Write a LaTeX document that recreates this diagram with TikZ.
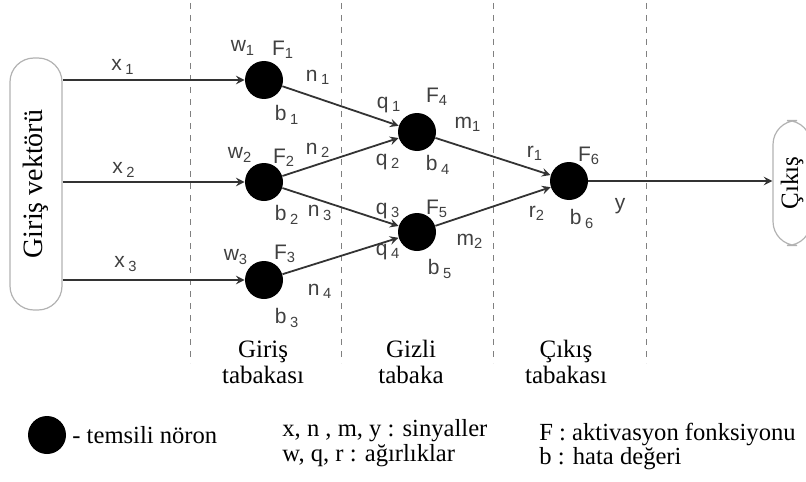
\documentclass[tikz,border=0pt]{standalone}
\usepackage{fontspec}
\setmainfont{Liberation Serif}
\setsansfont{Liberation Sans}
\begin{document}
\begin{tikzpicture}[x=0.5pt,y=-0.5pt,>=stealth,
  neuron/.style={circle,fill=black,minimum size=19pt,inner sep=0pt},
  vecbox/.style={draw=gray!60,line width=0.6pt,rounded corners=12pt,rotate=90,inner sep=0pt},
  lbl/.style={font=\sffamily\fontsize{10.5}{11}\selectfont,text=black!75,inner sep=0pt},
  layer/.style={align=center,font=\fontsize{12.5}{13}\selectfont,inner sep=0pt},
  leg/.style={anchor=west,font=\fontsize{12.3}{13}\selectfont,inner sep=0pt},
  conn/.style={->,draw=black!80,line width=0.9pt}]
\useasboundingbox (0,0) rectangle (806,481);
\clip (0,0) rectangle (806,481);

% layer borders
\foreach \lx in {190,341,493,646}
  \draw[dashed,gray,line width=0.5pt] (\lx,3) -- (\lx,363);

% vectors
\node[vecbox,minimum width=126pt,minimum height=26pt,font=\fontsize{14}{15}\selectfont] (in) at (36,184) {Giriş vektörü};
\node[vecbox,minimum width=62.5pt,minimum height=19pt,font=\fontsize{12.5}{13}\selectfont] (out) at (792,183) {Çıkış};

% neurons
\node[neuron] (n1) at (264,80) {};
\node[neuron] (n2) at (264,182) {};
\node[neuron] (n3) at (264,280) {};
\node[neuron] (h1) at (417,132) {};
\node[neuron] (h2) at (417,232) {};
\node[neuron] (o) at (569,181) {};

\draw[conn] (in.south |- n1) -- (n1);
\draw[conn] (in.south |- n2) -- (n2);
\draw[conn] (in.south |- n3) -- (n3);
\draw[conn] (n1) -- (h1);
\draw[conn] (n2) -- (h1);
\draw[conn] (n2) -- (h2);
\draw[conn] (n3) -- (h2);
\draw[conn] (h1) -- (o);
\draw[conn] (h2) -- (o);
\draw[conn] (o) -- (out.north |- o);

% labels
\node[lbl] (lx1) at (123,67) {x\,\textsubscript{1}};
\node[lbl] (lx2) at (124,170) {x\,\textsubscript{2}};
\node[lbl] (lx3) at (126,264) {x\,\textsubscript{3}};
\node[lbl] (lw1) at (243,48) {w\textsubscript{1}};
\node[lbl] (lw2) at (240,155) {w\textsubscript{2}};
\node[lbl] (lw3) at (236,257) {w\textsubscript{3}};
\node[lbl] (lf1) at (283,50) {F\textsubscript{1}};
\node[lbl] (lf2) at (284,158) {F\textsubscript{2}};
\node[lbl] (lf3) at (285,254) {F\textsubscript{3}};
\node[lbl] (lb1) at (287,115) {b\,\textsubscript{1}};
\node[lbl] (lb2) at (287,215) {b\,\textsubscript{2}};
\node[lbl] (lb3) at (287,318) {b\,\textsubscript{3}};
\node[lbl] (ln1) at (318,77) {n\,\textsubscript{1}};
\node[lbl] (ln2) at (318,150) {n\,\textsubscript{2}};
\node[lbl] (ln3) at (320,213) {n\,\textsubscript{3}};
\node[lbl] (ln4) at (320,291) {n\,\textsubscript{4}};
\node[lbl] (lq1) at (389,105) {q\,\textsubscript{1}};
\node[lbl] (lq2) at (388,162) {q\,\textsubscript{2}};
\node[lbl] (lq3) at (388,211) {q\,\textsubscript{3}};
\node[lbl] (lq4) at (388,252) {q\,\textsubscript{4}};
\node[lbl] (lf4) at (437,97) {F\textsubscript{4}};
\node[lbl] (lf5) at (437,209) {F\textsubscript{5}};
\node[lbl] (lb4) at (438,165) {b\,\textsubscript{4}};
\node[lbl] (lb5) at (440,269) {b\,\textsubscript{5}};
\node[lbl] (lm1) at (468,124) {m\textsubscript{1}};
\node[lbl] (lm2) at (470,241) {m\textsubscript{2}};
\node[lbl] (lr1) at (535,153) {r\textsubscript{1}};
\node[lbl] (lr2) at (537,213) {r\textsubscript{2}};
\node[lbl] (lf6) at (589,156) {F\textsubscript{6}};
\node[lbl] (lb6) at (582,219) {b\,\textsubscript{6}};
\node[lbl] (ly) at (620,206) {y};

% layer names
\node[layer] (l1) at (263,362) {Giriş\\tabakası};
\node[layer] (l2) at (411,362) {Gizli\\tabaka};
\node[layer] (l3) at (566,362) {Çıkış\\tabakası};

% legend
\node[neuron] (legn) at (47,435) {};
\node[leg] (leg1) at (72,435) {- temsili nöron};
\node[leg] (leg2) at (282,431) {x, n , m, y : sinyaller};
\node[leg] (leg3) at (282,456) {w, q, r : ağırlıklar};
\node[leg] (leg4) at (539,434) {F : aktivasyon fonksiyonu};
\node[leg] (leg5) at (539,459) {b : hata değeri};
\end{tikzpicture}
\end{document}
